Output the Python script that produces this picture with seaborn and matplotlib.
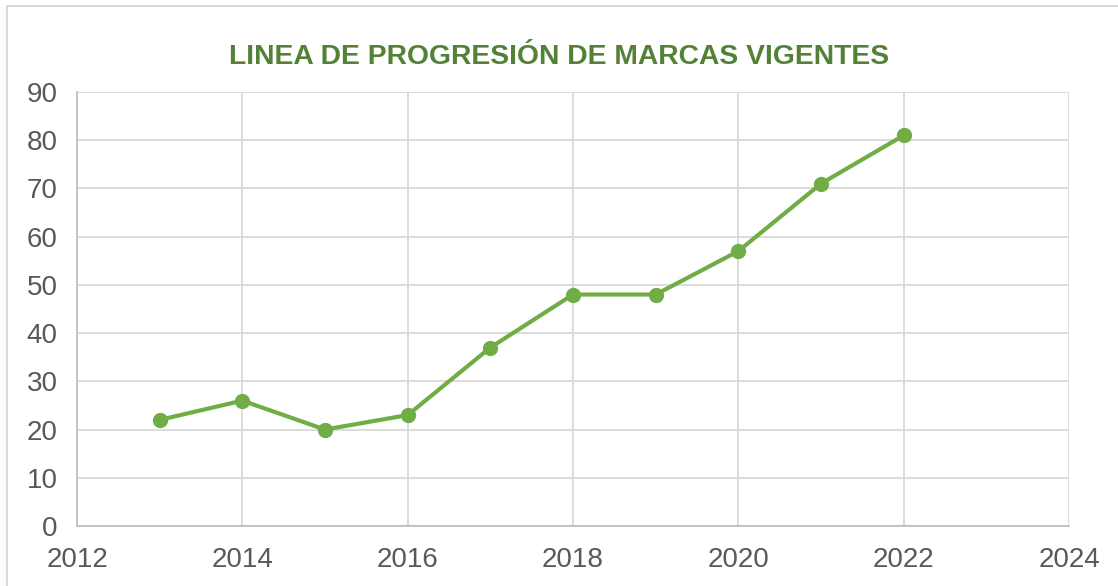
import pandas as pd
import seaborn as sns
import matplotlib.pyplot as plt
from matplotlib.patches import Rectangle

sns.set_theme(style="white")
plt.rcParams["font.family"] = ["Liberation Sans", "DejaVu Sans"]

years = [2013, 2014, 2015, 2016, 2017, 2018, 2019, 2020, 2021, 2022]
marcas = [22, 26, 20, 23, 37, 48, 48, 57, 71, 81]

df = pd.DataFrame({"year": years, "marcas": marcas})

fig = plt.figure(figsize=(11.18, 5.86), dpi=100)
ax = fig.add_axes([77 / 1118, 1 - 526 / 586, (1069 - 77) / 1118, (526 - 92) / 586])

sns.lineplot(data=df, x="year", y="marcas", color="#70ad47", linewidth=3,
             marker="o", markersize=11, markeredgewidth=0, ax=ax)

ax.set_xlim(2012, 2024)
ax.set_ylim(0, 90)
ax.set_xticks(range(2012, 2025, 2))
ax.set_yticks(range(0, 91, 10))
ax.grid(True, color="#d9d9d9", linewidth=1.3)
ax.set_axisbelow(True)
for side in ["top", "right"]:
    ax.spines[side].set_visible(False)
for side in ["left", "bottom"]:
    ax.spines[side].set_color("#bfbfbf")
    ax.spines[side].set_linewidth(1.3)
ax.tick_params(axis="both", length=0, labelsize=20, colors="#595959")
ax.tick_params(axis="x", pad=15)
ax.tick_params(axis="y", pad=14)
ax.set_xlabel("")
ax.set_ylabel("")

fig.text(0.5, 1 - 57 / 586, "LINEA DE PROGRESIÓN DE MARCAS VIGENTES",
         ha="center", va="center", fontsize=20.3, fontweight="bold",
         color="#538135")

fig.patches.append(Rectangle((7 / 1118, -0.05), 1.2, 1.05 - 6 / 586,
                             transform=fig.transFigure, fill=False,
                             edgecolor="#d9d9d9", linewidth=1.5))

fig.savefig("out.png", dpi=100)
